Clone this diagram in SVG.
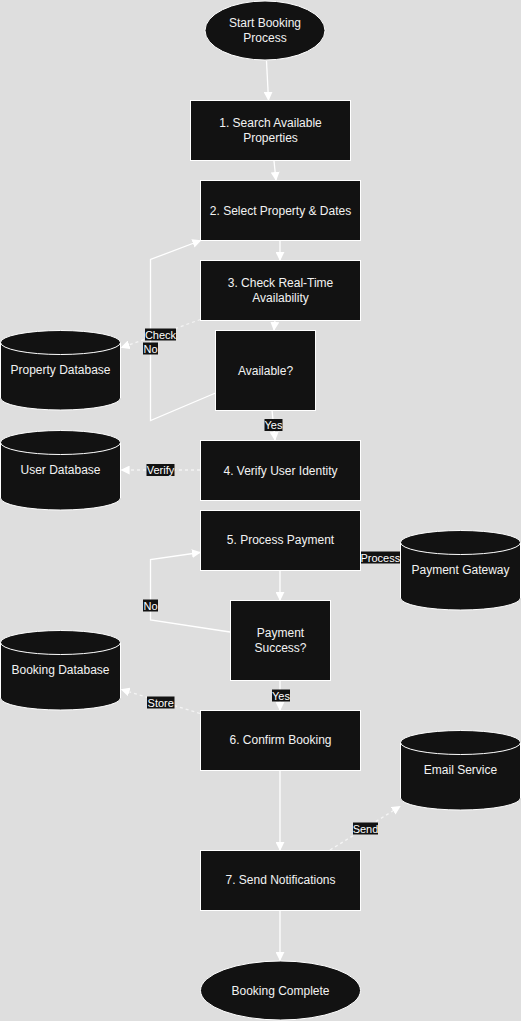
<svg xmlns="http://www.w3.org/2000/svg" width="521" height="1021" viewBox="0 0 521 1021">
<style>
.n{fill:#121212;stroke:#ffffff;stroke-width:1}
.t{fill:#f2f2f2;font-family:"Liberation Sans",Arial,sans-serif;font-size:12px;text-anchor:middle}
.e{fill:none;stroke:#ffffff;stroke-width:1.3}
.d{fill:none;stroke:#f4f4f4;stroke-width:1.3;stroke-dasharray:3,3}
.lb{fill:#121212}
.lt{fill:#ffffff;font-family:"Liberation Sans",Arial,sans-serif;font-size:11px;text-anchor:middle}
</style>
<defs>
<marker id="ah" viewBox="0 0 10 10" refX="9" refY="5" markerUnits="userSpaceOnUse" markerWidth="9" markerHeight="9" orient="auto">
<path d="M0,0 L10,5 L0,10 z" fill="#ffffff"/>
</marker>
</defs>
<rect width="521" height="1021" fill="#dedede"/>

<g id="connectors">
<path class="e" d="M266.5,61 L268.5,100" marker-end="url(#ah)"/>
<path class="e" d="M274,161 L276,180" marker-end="url(#ah)"/>
<path class="e" d="M280,240 L280,260" marker-end="url(#ah)"/>
<path class="e" d="M275,320 L274,330" marker-end="url(#ah)"/>
<path class="e" d="M272,410 L275,440" marker-end="url(#ah)"/>
<path class="e" d="M215.5,393 L150.5,420.5 L150.5,259.5 L200.5,240.5" marker-end="url(#ah)"/>
<path class="d" d="M200.5,319.5 L121.5,347.5" marker-end="url(#ah)"/>
<path class="d" d="M200,470 L121.5,470" marker-end="url(#ah)"/>
<path class="d" d="M360,557 L400,557" marker-end="url(#ah)"/>
<path class="e" d="M280,570 L280,600" marker-end="url(#ah)"/>
<path class="e" d="M230,632 L150.5,620 L150.5,559.5 L200,552.5" marker-end="url(#ah)"/>
<path class="e" d="M280,680 L280,710" marker-end="url(#ah)"/>
<path class="d" d="M200,713.5 L121.5,689.5" marker-end="url(#ah)"/>
<path class="e" d="M280,770 L280,850" marker-end="url(#ah)"/>
<path class="d" d="M330,850 L400,806.5" marker-end="url(#ah)"/>
<path class="e" d="M280,910 L280,960" marker-end="url(#ah)"/>
<g id="labels">
<rect class="lb" x="145" y="328.5" width="31" height="12"/><text class="lt" x="160.5" y="338.5">Check</text>
<rect class="lb" x="143" y="342.5" width="15" height="12"/><text class="lt" x="150.5" y="352.5">No</text>
<rect class="lb" x="264.5" y="419" width="18" height="12"/><text class="lt" x="273.5" y="429">Yes</text>
<rect class="lb" x="146.5" y="464" width="28" height="12"/><text class="lt" x="160.5" y="474">Verify</text>
<rect class="lb" x="360.5" y="551.5" width="39.5" height="12"/><text class="lt" x="380.3" y="561.5">Process</text>
<rect class="lb" x="143" y="599.5" width="15" height="12"/><text class="lt" x="150.5" y="609.5">No</text>
<rect class="lb" x="272" y="689.5" width="18" height="12"/><text class="lt" x="281" y="699.5">Yes</text>
<rect class="lb" x="147" y="696.5" width="27.5" height="12"/><text class="lt" x="160.7" y="706.5">Store</text>
<rect class="lb" x="353" y="822.5" width="25" height="12"/><text class="lt" x="365.5" y="832.5">Send</text>
</g>
</g>

<g id="start"><ellipse class="n" cx="265" cy="30.5" rx="60" ry="29.5"/><text class="t" x="265" y="27">Start Booking</text><text class="t" x="265" y="42">Process</text></g>
<g id="step1"><rect class="n" x="190.5" y="100.5" width="160" height="60"/><text class="t" x="270.5" y="127">1. Search Available</text><text class="t" x="270.5" y="142">Properties</text></g>
<g id="step2"><rect class="n" x="200.5" y="180.5" width="160" height="60"/><text class="t" x="280.5" y="214.5">2. Select Property &amp; Dates</text></g>
<g id="step3"><rect class="n" x="200.5" y="260.5" width="160" height="60"/><text class="t" x="280.5" y="287">3. Check Real-Time</text><text class="t" x="280.5" y="302">Availability</text></g>
<g id="available"><rect class="n" x="215.5" y="330.5" width="100" height="80"/><text class="t" x="265.5" y="374.5">Available?</text></g>
<g id="step4"><rect class="n" x="200.5" y="440.5" width="160" height="60"/><text class="t" x="280.5" y="474.5">4. Verify User Identity</text></g>
<g id="step5"><rect class="n" x="200.5" y="510.5" width="160" height="60"/><text class="t" x="280.5" y="544">5. Process Payment</text></g>
<g id="paysuccess"><rect class="n" x="230.5" y="600.5" width="100" height="80"/><text class="t" x="280.5" y="637">Payment</text><text class="t" x="280.5" y="652">Success?</text></g>
<g id="step6"><rect class="n" x="200.5" y="710.5" width="160" height="60"/><text class="t" x="280.5" y="744">6. Confirm Booking</text></g>
<g id="step7"><rect class="n" x="200.5" y="850.5" width="160" height="60"/><text class="t" x="280.5" y="884">7. Send Notifications</text></g>
<g id="end"><ellipse class="n" cx="280.5" cy="990.5" rx="80" ry="29.5"/><text class="t" x="280.5" y="994.5">Booking Complete</text></g>

<g id="propertydb"><path class="n" d="M0.5,342.5 a60,12 0 0 0 120,0 a60,12 0 0 0 -120,0 l0,55.5 a60,12 0 0 0 120,0 l0,-55.5"/><text class="t" x="60.5" y="374">Property Database</text></g>
<g id="userdb"><path class="n" d="M0.5,442.5 a60,12 0 0 0 120,0 a60,12 0 0 0 -120,0 l0,55.5 a60,12 0 0 0 120,0 l0,-55.5"/><text class="t" x="60.5" y="474">User Database</text></g>
<g id="bookingdb"><path class="n" d="M0.5,642.5 a60,12 0 0 0 120,0 a60,12 0 0 0 -120,0 l0,55.5 a60,12 0 0 0 120,0 l0,-55.5"/><text class="t" x="60.5" y="674">Booking Database</text></g>
<g id="paymentgw"><path class="n" d="M400.5,542.5 a60,12 0 0 0 120,0 a60,12 0 0 0 -120,0 l0,55.5 a60,12 0 0 0 120,0 l0,-55.5"/><text class="t" x="460.5" y="574">Payment Gateway</text></g>
<g id="emailsvc"><path class="n" d="M400.5,742.5 a60,12 0 0 0 120,0 a60,12 0 0 0 -120,0 l0,55.5 a60,12 0 0 0 120,0 l0,-55.5"/><text class="t" x="460.5" y="774">Email Service</text></g>
</svg>
